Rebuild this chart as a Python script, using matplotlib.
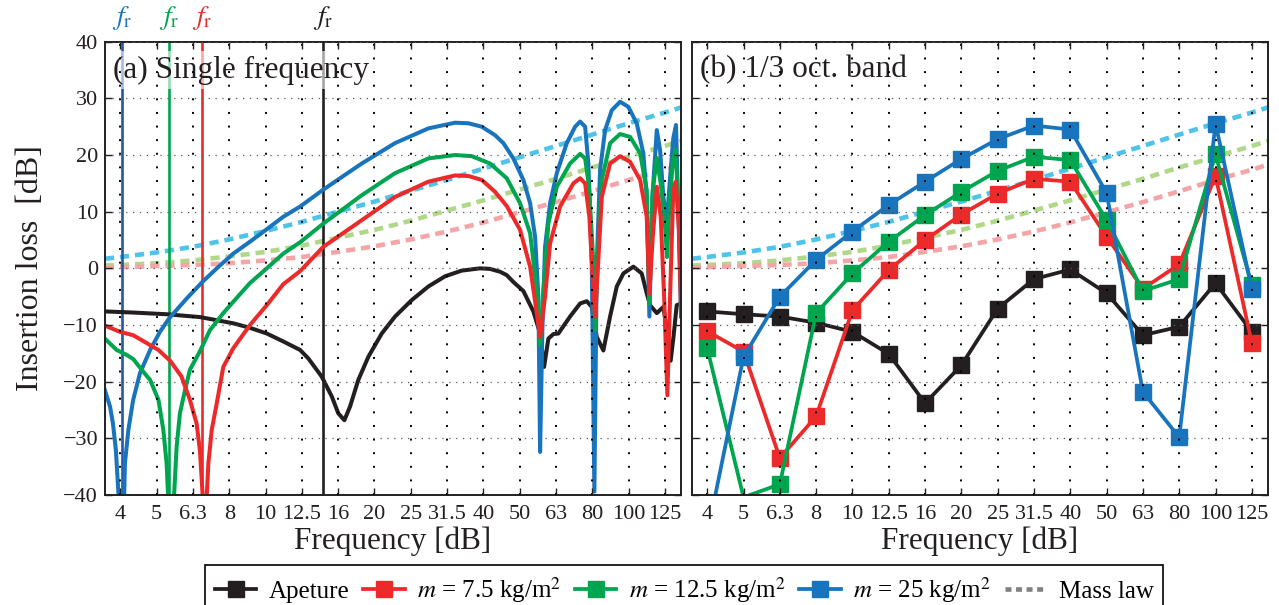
import matplotlib

matplotlib.use("Agg")
import matplotlib.pyplot as plt
from matplotlib.lines import Line2D
from matplotlib.ticker import NullLocator
from matplotlib.transforms import blended_transform_factory

# pixels / dpi
FIG_SIZE = (12.79, 6.05)
DPI = 100
AX_A_RECT = [0.0821, 0.1818, 0.4504, 0.7493]
AX_B_RECT = [0.5410, 0.1818, 0.4504, 0.7493]
XLIM = (3.613, 139.5)

C_BLACK = "#231f20"
C_RED = "#ed2a2a"
C_GREEN = "#00a54f"
C_BLUE = "#1874bd"
C_BLUE_FR = "#2358a6"
C_MASS = ["#4fc4e8", "#b0d889", "#f4a5a8"]

# 1/3 octave band centres [Hz] and their nominal labels
band_freq = [3.981, 5.012, 6.310, 7.943, 10.0, 12.59, 15.85, 19.95,
             25.12, 31.62, 39.81, 50.12, 63.10, 79.43, 100.0, 125.9]
band_labels = ["4", "5", "6.3", "8", "10", "12.5", "16", "20",
               "25", "31.5", "40", "50", "63", "80", "100", "125"]

# (a) single frequency curves
black_a_f = [3.61, 4.32, 5.34, 6.60, 8.15, 9.06, 10.08, 11.19, 12.45, 13.12, 14.28, 15.22, 15.87, 16.49,
             17.09, 18.01, 19.20, 20.90, 22.74, 25.28, 28.09, 31.23, 34.71, 38.98, 41.54, 44.26, 46.18,
             48.15, 51.31, 54.67, 57.05, 58.51, 60.13, 62.06, 64.07, 69.01, 73.54, 76.71, 79.18, 81.73,
             85.23, 88.93, 92.79, 96.76, 103.1, 108.7, 112.2, 114.6, 119.6, 124.7, 127.6, 130.6, 133.0,
             135.7, 139.5]
black_a_il = [-7.6, -7.8, -8.1, -8.6, -9.7, -10.5, -11.5, -12.9, -14.4, -15.9, -19.1, -22.6, -25.6, -26.8,
              -24.4, -19.7, -15.6, -11.5, -8.5, -5.6, -3.2, -1.4, -0.4, 0.0, -0.1, -0.6, -1.2,
              -2.4, -4.0, -7.6, -11.5, -17.4, -12.4, -11.6, -11.5, -8.5, -6.2, -5.8, -6.8, -12.1,
              -14.5, -8.5, -3.2, -0.9, 0.3, -0.9, -4.4, -6.5, -7.9, -6.8, -11.0, -16.3, -12.0,
              -6.5, -6.2]

blue_a_f = [3.61, 3.73, 3.80, 3.87, 3.92, 4.00, 4.08, 4.10, 4.19, 4.32, 4.51, 4.81, 5.12, 5.43, 6.07,
            6.70, 7.34, 8.15, 9.06, 10.08, 11.19, 12.45, 14.43, 18.41, 22.74, 28.09, 33.27, 36.21,
            39.40, 42.87, 45.20, 48.15, 51.31, 53.55, 55.27, 56.43, 57.05, 57.88, 58.88, 60.78, 63.42,
            67.58, 71.24, 73.54, 75.91, 77.48, 79.18, 80.50, 81.73, 83.47, 86.17, 89.89, 94.76, 99.86,
            105.3, 109.8, 112.2, 114.1, 116.3, 119.6, 122.1, 124.7, 127.4, 130.1, 132.8, 135.1, 137.1,
            139.5]
blue_a_il = [-21.5, -24.4, -27.4, -32.0, -38.0, -48.0, -40.0, -34.4, -28.5, -23.2, -18.5, -14.4, -11.2,
             -8.8, -5.3, -2.4, 0.0, 2.6, 4.7, 6.9, 9.1, 10.9, 13.9, 18.5, 22.1, 24.7, 25.7, 25.6, 25.0,
             23.5, 22.1, 19.4, 15.6, 11.5, 5.6, -5.0, -32.4, -10.9, 3.8, 11.5, 16.8, 22.1, 25.0, 25.9,
             25.0, 18.5, 0.9, -39.4, 0.9, 17.4, 24.4, 27.9, 29.4, 28.5, 25.6, 20.3, 12.6, -8.5, 12.6,
             24.4, 20.9, 12.6, 8.0, 16.0, 23.0, 25.3, 10.0, -8.5]

green_a_f = [3.61, 3.89, 4.15, 4.32, 4.56, 4.81, 5.07, 5.23, 5.34, 5.46, 5.60, 5.69, 5.81, 6.00, 6.19,
             6.60, 7.03, 7.65, 8.15, 9.06, 10.08, 11.19, 12.45, 14.43, 18.41, 22.74, 28.09, 33.27, 36.98,
             41.54, 46.18, 50.24, 53.55, 55.86, 57.05, 58.25, 60.13, 63.42, 69.01, 73.54, 75.91, 77.83,
             79.98, 80.85, 82.06, 84.37, 88.93, 94.76, 100.95, 107.6, 112.2, 114.1, 116.6, 119.6, 122.6,
             125.9, 127.6, 129.3, 132.4, 134.8, 137.7, 139.5]
green_a_il = [-12.4, -14.4, -15.3, -16.0, -17.9, -19.7, -23.2, -28.5, -34.4, -48.0, -40.0, -31.5, -25.6,
              -21.5, -17.9, -14.6, -10.9, -7.9, -5.9, -2.6, 0.0, 2.6, 4.6, 7.9, 12.9, 16.8, 19.4, 20.0,
              19.8, 18.5, 15.9, 11.5, 6.2, -3.8, -13.5, -3.8, 7.9, 14.4, 18.5, 20.2, 19.4, 14.4, 0.9,
              -10.9, 0.9, 15.6, 22.1, 23.7, 23.2, 20.3, 13.8, -6.2, 13.8, 19.5, 15.0, 7.9, 2.0, 10.0,
              19.0, 21.0, 7.9, -3.0]

red_a_f = [3.61, 3.97, 4.32, 4.71, 5.07, 5.46, 5.87, 6.19, 6.46, 6.60, 6.71, 6.79, 6.89, 6.96, 7.11,
           7.34, 7.65, 8.15, 9.06, 10.08, 11.19, 12.45, 14.43, 18.41, 22.74, 28.09, 33.27, 36.21, 39.40,
           41.54, 42.87, 46.18, 50.24, 53.55, 55.86, 57.05, 58.88, 60.78, 64.76, 70.46, 73.54, 75.91,
           77.98, 79.68, 80.85, 82.06, 84.37, 88.93, 94.76, 100.95, 107.6, 112.2, 114.1, 116.6, 119.6,
           122.6, 125.3, 127.9, 130.1, 132.8, 134.9, 137.7, 139.5]
red_a_il = [-10.1, -11.2, -11.8, -13.2, -14.4, -16.3, -19.1, -23.2, -27.4, -32.3, -40.0, -48.0, -40.0,
            -34.4, -28.5, -23.8, -17.4, -14.1, -10.0, -6.5, -2.8, -0.5, 3.8, 8.5, 12.6, 15.3, 16.4,
            16.3, 15.6, 14.3, 13.5, 11.0, 6.8, 0.3, -7.9, -12.1, -5.0, 4.4, 10.9, 15.0, 15.9, 15.0,
            9.1, -2.1, -8.5, -1.5, 12.6, 18.5, 19.8, 18.8, 15.6, 9.1, -4.4, 5.6, 14.4, 9.1, -5.0,
            -22.4, -5.0, 13.8, 15.3, 6.8, -7.9]

# resonance frequencies f_r [Hz]: m = 25, 12.5, 7.5 and aperture
fr_freq = [4.02, 5.43, 6.70, 14.43]

# mass law (m = 25, 12.5, 7.5 kg/m2)
mass_freq = [3.61, 3.98, 5.01, 6.31, 7.94, 10.0, 12.6, 15.8, 20.0, 25.1, 31.6, 39.8, 50.1, 63.1,
             79.4, 100.0, 126.0, 139.5]
mass_25 = [1.7, 2.0, 2.8, 3.8, 5.1, 6.6, 8.2, 10.0, 11.8, 13.7, 15.6, 17.6, 19.6, 21.6, 23.6, 25.6, 27.5, 28.4]
mass_12 = [0.5, 0.6, 0.9, 1.4, 2.1, 2.9, 4.0, 5.4, 6.8, 8.4, 10.2, 12.0, 13.9, 15.8, 17.8, 19.7, 21.6, 22.5]
mass_7 = [0.2, 0.2, 0.4, 0.6, 0.9, 1.4, 2.0, 2.9, 3.9, 5.1, 6.5, 8.1, 9.9, 11.7, 13.6, 15.6, 17.4, 18.3]

# (b) 1/3 octave band values
band_black = [-7.6, -8.1, -8.5, -9.6, -11.2, -15.1, -23.8, -17.1, -7.1, -1.9, -0.2, -4.4, -11.8, -10.3, -2.6, -11.2]
band_red = [-11.1, -14.7, -33.5, -26.1, -7.4, -0.3, 5.0, 9.5, 13.2, 15.8, 15.3, 5.6, -3.6, 0.7, 16.3, -13.2]
band_green = [-14.1, -40.4, -38.1, -7.9, -0.9, 4.7, 9.4, 13.5, 17.2, 19.7, 19.1, 8.5, -4.0, -1.9, 20.1, -3.0]
band_blue = [-47.0, -15.6, -5.0, 1.5, 6.5, 11.2, 15.3, 19.3, 22.8, 25.2, 24.5, 13.3, -21.8, -29.8, 25.5, -3.6]

labels = ["Apeture", r"$m$ = 7.5 kg/m$^2$", r"$m$ = 12.5 kg/m$^2$", r"$m$ = 25 kg/m$^2$", "Mass law"]

MASS_LW = 3.3
MASS_DASH = (0, (2.0, 1.3))
CURVE_LW = 2.9


def style_axes(ax):
    ax.set_xscale("log")
    ax.set_xlim(XLIM)
    ax.set_ylim(-40, 40)
    ax.set_xticks(band_freq)
    ax.set_xticklabels(band_labels)
    ax.xaxis.set_minor_locator(NullLocator())
    ax.set_yticks(range(-40, 41, 10))
    ax.tick_params(direction="in", top=True, right=True, length=5, width=1.0,
                   labelsize=16, colors=C_BLACK)
    ax.tick_params(axis="x", pad=7)
    ax.tick_params(axis="y", pad=5)
    ax.xaxis.grid(True, color="k", linestyle=(0, (1, 6)), linewidth=1.4)
    ax.yaxis.grid(True, color="0.35", linestyle=(0, (1, 4.5)), linewidth=0.9)
    ax.set_axisbelow(False)
    for sp in ax.spines.values():
        sp.set_linewidth(1.4)
        sp.set_color(C_BLACK)
    ax.set_xlabel("Frequency [dB]", fontsize=22.5, color=C_BLACK)
    ax.xaxis.set_label_coords(0.5, -0.07)
    for vals, col in zip([mass_25, mass_12, mass_7], C_MASS):
        ax.plot(mass_freq, vals, color=col, lw=MASS_LW, linestyle=MASS_DASH, dash_capstyle="butt")


def main():
    plt.rcParams["font.family"] = ["Liberation Serif", "DejaVu Serif"]
    plt.rcParams["mathtext.fontset"] = "stix"

    fig = plt.figure(figsize=FIG_SIZE, dpi=DPI)
    ax_a = fig.add_axes(AX_A_RECT)
    ax_b = fig.add_axes(AX_B_RECT)

    # 1. panel (a): single frequency
    style_axes(ax_a)
    ax_a.set_ylabel("Insertion loss  [dB]", fontsize=23, color=C_BLACK)
    ax_a.yaxis.set_label_coords(-0.105, 0.5)

    fr_colors = [C_BLUE_FR, C_GREEN, C_RED, C_BLACK]
    fr_text_colors = [C_BLUE, C_GREEN, C_RED, C_BLACK]
    trans = blended_transform_factory(ax_a.transData, ax_a.transAxes)
    for f, c, tc in zip(fr_freq, fr_colors, fr_text_colors):
        ax_a.axvline(f, color=c, lw=1.9)
        ax_a.text(f, 1.053, r"$f_\mathrm{r}$", transform=trans, color=tc, fontsize=20,
                  ha="center", va="center", clip_on=False)

    ax_a.plot(black_a_f, black_a_il, color=C_BLACK, lw=CURVE_LW)
    ax_a.plot(blue_a_f, blue_a_il, color=C_BLUE, lw=CURVE_LW)
    ax_a.plot(green_a_f, green_a_il, color=C_GREEN, lw=CURVE_LW)
    ax_a.plot(red_a_f, red_a_il, color=C_RED, lw=CURVE_LW)

    ax_a.text(0.014, 0.9375, "(a) Single frequency", transform=ax_a.transAxes, fontsize=22.5,
              ha="left", va="center", color=C_BLACK, zorder=2.3,
              bbox=dict(facecolor="white", alpha=0.6, edgecolor="none", pad=3))

    # 2. panel (b): 1/3 octave band
    style_axes(ax_b)
    ax_b.tick_params(labelleft=False)
    handles = []
    for vals, col in zip([band_black, band_red, band_green, band_blue],
                         [C_BLACK, C_RED, C_GREEN, C_BLUE]):
        keep = [i for i, v in enumerate(vals) if -40 <= v <= 40]
        (ln,) = ax_b.plot(band_freq, vals, color=col, lw=2.7, marker="s", markersize=11.5,
                          markevery=keep)
        handles.append(ln)
    ax_b.text(0.014, 0.9375, "(b) 1/3 oct. band", transform=ax_b.transAxes, fontsize=22.5,
              ha="left", va="center", color=C_BLACK, zorder=2.3)

    # 3. legend below both panels
    handles.append(Line2D([], [], color="#808080", lw=MASS_LW, linestyle=(0, (1.3, 1.0)),
                          dash_capstyle="butt"))
    leg = fig.legend(handles, labels, loc="upper center", bbox_to_anchor=(0.535, 1 - 565 / 605),
                     ncol=5, fontsize=18, frameon=True, fancybox=False, edgecolor="k",
                     framealpha=1, handlelength=1.65, handletextpad=0.5, columnspacing=0.55,
                     borderpad=0.4, borderaxespad=0)
    leg.get_frame().set_linewidth(1.2)

    fig.savefig("out.png", dpi=DPI)


if __name__ == "__main__":
    main()
